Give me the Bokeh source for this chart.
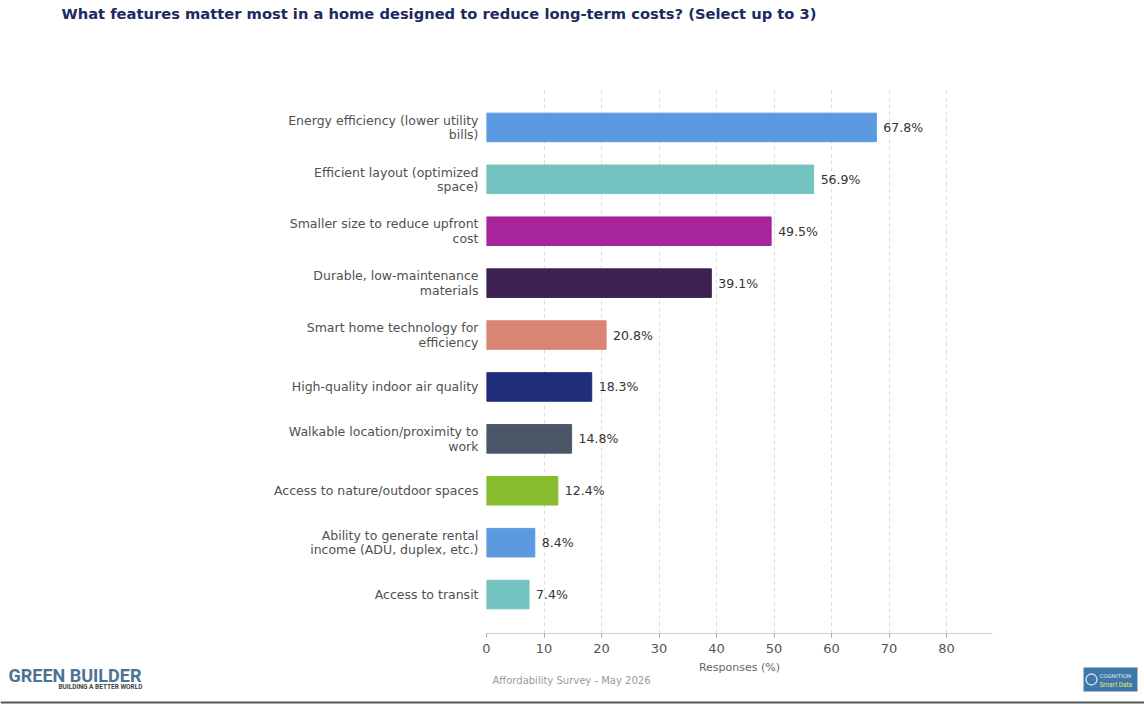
from bokeh.plotting import figure
from bokeh.layouts import column
from bokeh.models import ColumnDataSource, Range1d, FixedTicker, LabelSet
from bokeh.core.properties import value
from bokeh.embed import file_html
from bokeh.resources import INLINE

# ---------------- data ----------------
categories = [
    "Energy efficiency (lower utility\nbills)",
    "Efficient layout (optimized\nspace)",
    "Smaller size to reduce upfront\ncost",
    "Durable, low-maintenance\nmaterials",
    "Smart home technology for\nefficiency",
    "High-quality indoor air quality",
    "Walkable location/proximity to\nwork",
    "Access to nature/outdoor spaces",
    "Ability to generate rental\nincome (ADU, duplex, etc.)",
    "Access to transit",
]
values = [67.8, 56.9, 49.5, 39.1, 20.8, 18.3, 14.8, 12.4, 8.4, 7.4]
colors = ["#5b9ae0", "#74c3c1", "#a8249c", "#3d2150", "#d98574",
          "#1f2d7a", "#4b5669", "#86bc2d", "#5b9ae0", "#74c3c1"]
x_ticks = [0, 10, 20, 30, 40, 50, 60, 70, 80]
title_text = "What features matter most in a home designed to reduce long-term costs? (Select up to 3)"
x_label = "Responses (%)"
source_note = "Affordability Survey - May 2026"
logo_main = "GREEN BUILDER"
logo_sub = "BUILDING A BETTER WORLD"
logo2_lines = ["COGNITION", "Smart Data"]

FONT = "DejaVu Sans"
W = 1144
n = len(categories)
ypos = [n - 1 - i for i in range(n)]


def no_align(f):
    try:
        f.frame_align = False
    except Exception:
        pass
    return f


def strip(h):
    f = figure(width=W, height=h, output_backend="svg", toolbar_location=None,
               x_range=Range1d(0, W), y_range=Range1d(h, 0),
               x_axis_location=None, y_axis_location=None,
               min_border=0, min_border_left=0, min_border_right=0,
               min_border_top=0, min_border_bottom=0)
    f.outline_line_color = None
    f.xgrid.grid_line_color = None
    f.ygrid.grid_line_color = None
    f.border_fill_color = "white"
    return no_align(f)


# ---------------- header ----------------
head = strip(60)
head.text(x=[61], y=[13], text=[title_text], text_font=value(FONT),
          text_font_style="bold", text_font_size="14.7px", text_color="#1c2a5e",
          text_baseline="middle", text_align="left")

# ---------------- main chart ----------------
src = ColumnDataSource(dict(
    y=ypos, v=values, c=colors,
    lbl=[f"{v:.1f}%" for v in values],
))

p = figure(width=W, height=600, output_backend="svg", toolbar_location=None,
           x_range=Range1d(0, 88), y_range=Range1d(-0.75, n - 0.25),
           min_border_left=486, min_border_right=W - 992,
           min_border_top=28, min_border_bottom=27)
p.outline_line_color = None
p.border_fill_color = "white"
no_align(p)

p.hbar(y="y", right="v", left=0, height=0.55, color="c", source=src)

p.add_layout(LabelSet(x="v", y="y", text="lbl", source=src, x_offset=7,
                      text_baseline="middle", text_align="left",
                      text_font_size="12.5px", text_color="#333333",
                      text_font=value(FONT)))

p.yaxis.ticker = FixedTicker(ticks=ypos)
p.yaxis.major_label_overrides = {y: c for y, c in zip(ypos, categories)}
p.yaxis.axis_line_color = None
p.yaxis.major_tick_line_color = None
p.yaxis.major_tick_out = 0
p.yaxis.major_tick_in = 0
p.yaxis.minor_tick_line_color = None
p.yaxis.major_label_text_font = FONT
p.yaxis.major_label_text_font_size = "12.5px"
p.yaxis.major_label_text_color = "#505050"
p.yaxis.major_label_text_line_height = 0.97
p.yaxis.major_label_standoff = 8

p.xaxis.ticker = FixedTicker(ticks=x_ticks)
p.xaxis.axis_line_color = "#cccccc"
p.xaxis.major_tick_line_color = "#aaaaaa"
p.xaxis.major_tick_out = 4
p.xaxis.major_tick_in = 0
p.xaxis.minor_tick_line_color = None
p.xaxis.major_label_text_font = FONT
p.xaxis.major_label_text_font_size = "13px"
p.xaxis.major_label_text_color = "#555555"
p.xaxis.major_label_standoff = 6

p.xgrid.ticker = FixedTicker(ticks=x_ticks)
p.xgrid.grid_line_color = "#dddddd"
p.xgrid.grid_line_dash = "4 3"
p.ygrid.grid_line_color = None

# ---------------- footer ----------------
foot = strip(44)
foot.text(x=[739], y=[7], text=[x_label], text_font=value(FONT),
          text_font_size="11px", text_color="#666666",
          text_baseline="middle", text_align="center")
foot.text(x=[492], y=[20], text=[source_note], text_font=value(FONT),
          text_font_size="10px", text_color="#999999",
          text_baseline="middle", text_align="left")
foot.text(x=[8], y=[15], text=[logo_main], text_font=value("Roboto"),
          text_font_style="bold", text_font_size="18px", text_color="#4d7394",
          text_baseline="middle", text_align="left")
foot.text(x=[142], y=[26], text=[logo_sub], text_font=value("Roboto"),
          text_font_style="bold", text_font_size="6.5px", text_color="#444444",
          text_baseline="middle", text_align="right")
foot.quad(left=[1083], right=[1137], top=[7], bottom=[31],
          fill_color="#3f78a8", line_color=None)
foot.scatter(x=[1091], y=[19], size=11, marker="circle", fill_color=None,
             line_color="#cfe2f0", line_width=1.3)
foot.text(x=[1099, 1099], y=[15, 24], text=logo2_lines, text_font=value("Roboto"),
          text_font_size=["6px", "6.5px"], text_color=["#d8e6f2", "#e3e36a"],
          text_baseline="middle", text_align="left")
foot.segment(x0=[0], y0=[42], x1=[W], y1=[42], line_color="#555555", line_width=2)

layout = column(head, p, foot, spacing=0)
open("out.html", "w").write(file_html(layout, INLINE))
